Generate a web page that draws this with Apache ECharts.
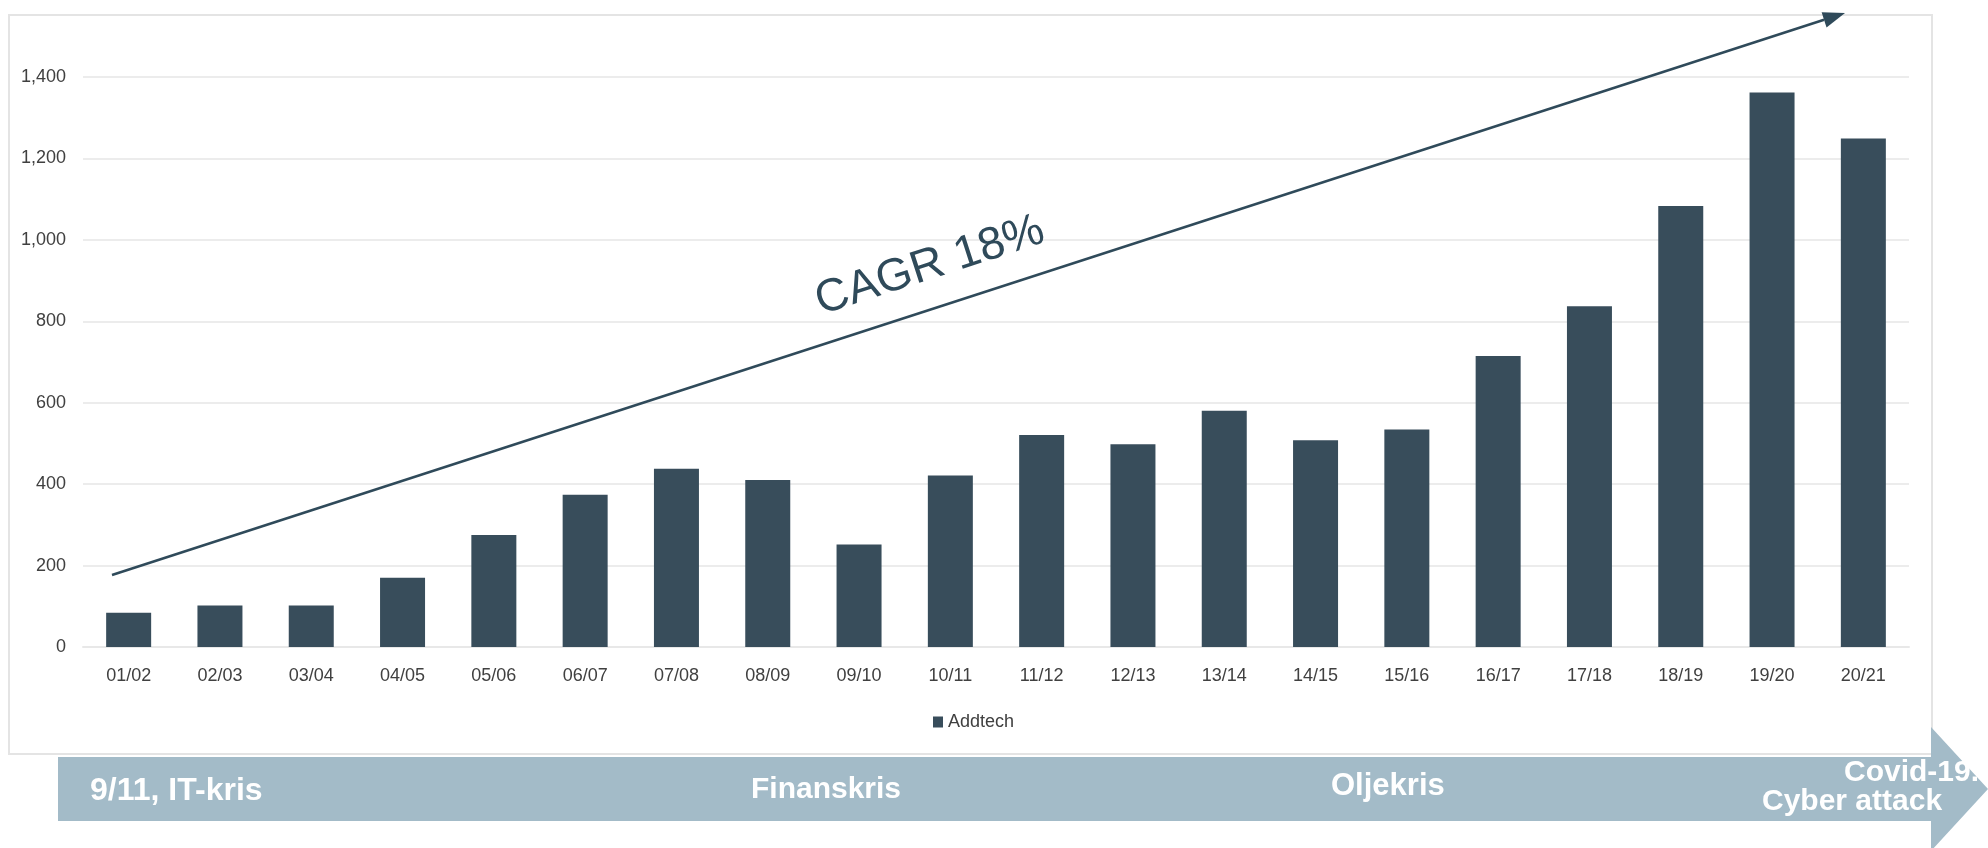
<!DOCTYPE html>
<html>
<head>
<meta charset="utf-8">
<script src="https://cdn.jsdelivr.net/npm/echarts@6/dist/echarts.min.js"></script>
<style>
  html, body { margin: 0; padding: 0; background: #fff; }
  #chart { width: 1988px; height: 848px; }
</style>
</head>
<body>
<div id="chart"></div>
<script>
// Addtech - yearly values
const categories = ['01/02', '02/03', '03/04', '04/05', '05/06', '06/07', '07/08', '08/09', '09/10', '10/11',
  '11/12', '12/13', '13/14', '14/15', '15/16', '16/17', '17/18', '18/19', '19/20', '20/21']
const addtech = [84, 102, 102, 170, 275, 374, 438, 410, 252, 421,
  521, 498, 580, 508, 534, 715, 837, 1083, 1362, 1249]
const yTicks = [0, 200, 400, 600, 800, 1000, 1200, 1400]

const barColor = '#384d5b'
const bandColor = '#a3bbc8'
const labelFont = "'Liberation Sans', Arial, sans-serif"
const arial = "'Liberation Sans', Arial, sans-serif"

// trend arrow (annotation)
const a0 = [112, 575]
const a1 = [1845, 13]
const dx = a1[0] - a0[0], dy = a1[1] - a0[1]
const len = Math.sqrt(dx * dx + dy * dy)
const ux = dx / len, uy = dy / len
const headL = 22, headW = 8
const base = [a1[0] - headL * ux, a1[1] - headL * uy]
const angle = Math.atan2(-dy, dx)

const chart = echarts.init(document.getElementById('chart'))

chart.setOption({
  animation: false,
  backgroundColor: '#fff',
  grid: {
    left: 83,
    right: 79,
    top: 77,
    bottom: 201,
    containLabel: false
  },
  legend: {
    data: ['Addtech'],
    left: 933,
    top: 713,
    padding: 0,
    icon: 'rect',
    itemWidth: 10,
    itemHeight: 11,
    itemGap: 4,
    textStyle: { fontFamily: labelFont, fontSize: 18, color: '#404040', padding: [0, 0, 0, 0] }
  },
  xAxis: {
    type: 'category',
    data: categories,
    axisTick: { show: false },
    axisLine: { lineStyle: { color: '#e8e8e8', width: 2 } },
    axisLabel: { fontFamily: labelFont, fontSize: 18, color: '#404040', margin: 20 }
  },
  yAxis: {
    type: 'value',
    min: yTicks[0],
    max: yTicks[yTicks.length - 1],
    interval: 200,
    axisLine: { show: false },
    axisTick: { show: false },
    splitLine: { lineStyle: { color: '#ececec', width: 2 } },
    axisLabel: { fontFamily: labelFont, fontSize: 18, color: '#404040', margin: 17 }
  },
  series: [
    {
      name: 'Addtech',
      type: 'bar',
      data: addtech,
      barWidth: 45,
      itemStyle: { color: barColor }
    }
  ],
  graphic: [
    {
      type: 'rect',
      z: -10,
      silent: true,
      shape: { x: 9, y: 15, width: 1923, height: 739 },
      style: { fill: 'none', stroke: '#e4e4e4', lineWidth: 2 }
    },
    {
      type: 'polygon',
      z: 10,
      silent: true,
      shape: {
        points: [[58, 757], [1931, 757], [1931, 727], [1988, 789], [1931, 851], [1931, 821], [58, 821]]
      },
      style: { fill: bandColor }
    },
    {
      type: 'line',
      z: 20,
      silent: true,
      shape: { x1: a0[0], y1: a0[1], x2: base[0], y2: base[1] },
      style: { stroke: '#2f4a5a', lineWidth: 2.5 }
    },
    {
      type: 'polygon',
      z: 20,
      silent: true,
      shape: {
        points: [
          a1,
          [base[0] - headW * uy, base[1] + headW * ux],
          [base[0] + headW * uy, base[1] - headW * ux]
        ]
      },
      style: { fill: '#2f4a5a' }
    },
    {
      type: 'text',
      z: 20,
      silent: true,
      x: 930,
      y: 266,
      rotation: angle,
      style: {
        text: 'CAGR 18%',
        fontFamily: arial,
        fontSize: 46,
        fill: '#2f4a5a',
        align: 'center',
        verticalAlign: 'middle'
      }
    },
    {
      type: 'text', z: 20, silent: true, x: 90, y: 791,
      style: { text: '9/11, IT-kris', fontFamily: arial, fontWeight: 'bold', fontSize: 32, fill: '#fff', verticalAlign: 'middle' }
    },
    {
      type: 'text', z: 20, silent: true, x: 751, y: 790,
      style: { text: 'Finanskris', fontFamily: arial, fontWeight: 'bold', fontSize: 30, fill: '#fff', verticalAlign: 'middle' }
    },
    {
      type: 'text', z: 20, silent: true, x: 1331, y: 786,
      style: { text: 'Oljekris', fontFamily: arial, fontWeight: 'bold', fontSize: 31, fill: '#fff', verticalAlign: 'middle' }
    },
    {
      type: 'text', z: 20, silent: true, x: 1844, y: 773,
      style: { text: 'Covid-19.', fontFamily: arial, fontWeight: 'bold', fontSize: 30, fill: '#fff', verticalAlign: 'middle' }
    },
    {
      type: 'text', z: 20, silent: true, x: 1762, y: 802,
      style: { text: 'Cyber attack', fontFamily: arial, fontWeight: 'bold', fontSize: 30, fill: '#fff', verticalAlign: 'middle' }
    }
  ]
})
</script>
</body>
</html>
